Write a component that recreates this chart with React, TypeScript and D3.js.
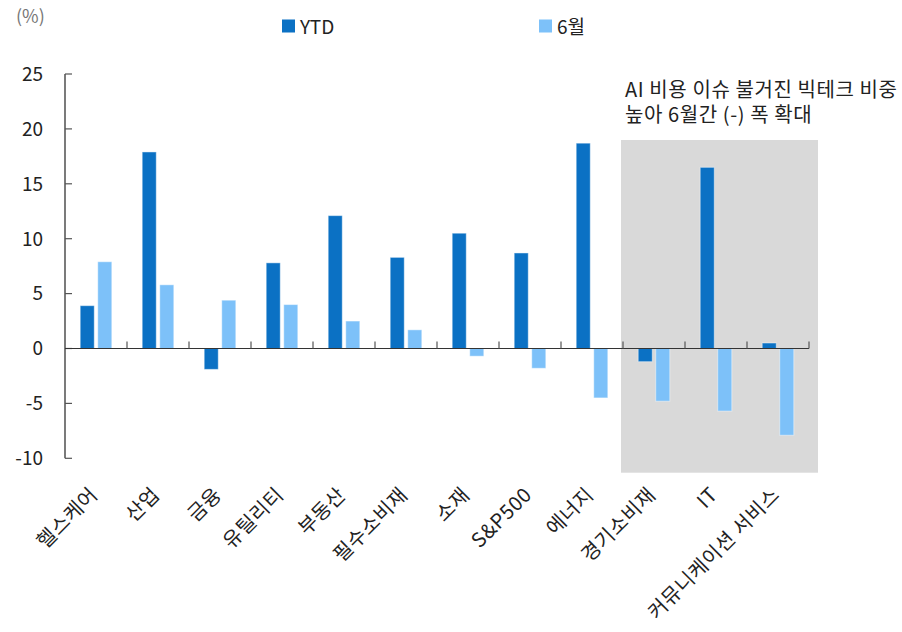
import React from 'react';
import * as d3 from 'd3';

const categories = ['헬스케어', '산업', '금융', '유틸리티', '부동산', '필수소비재', '소재', 'S&P500', '에너지', '경기소비재', 'IT', '커뮤니케이션 서비스'];
const ytd = [3.9, 17.9, -1.9, 7.8, 12.1, 8.3, 10.5, 8.7, 18.7, -1.2, 16.5, 0.5];
const june = [7.9, 5.8, 4.4, 4.0, 2.5, 1.7, -0.7, -1.8, -4.5, -4.8, -5.7, -7.9];
const seriesNames = ['YTD', '6월'];
const yTicks = [25, 20, 15, 10, 5, 0, -5, -10];
const highlight = ['경기소비재', '커뮤니케이션 서비스'];
const noteLines = ['AI 비용 이슈 불거진 빅테크 비중', '높아 6월간 (-) 폭 확대'];

const W = 902, H = 632;
const colors = ['#0B71C4', '#7DC1F9'];
const font = '"Noto Sans CJK KR", "Noto Sans", sans-serif';

export default function App() {
  const x = d3.scaleBand<string>().domain(categories).range([65, 809]).padding(0);
  const y = d3.scaleLinear().domain([-10, 25]).range([458.3, 74]);
  const x1 = d3.scaleBand<string>().domain(seriesNames).range([-15.8, 15.8]).paddingInner(0.2);
  const y0 = y(0);
  const values = [ytd, june];

  // shaded box behind the last three sectors
  const boxX0 = (x(highlight[0]) as number) - 2;
  const boxX1 = (x(highlight[1]) as number) + x.bandwidth() + 9;

  return (
    <svg width={W} height={H} style={{ position: 'absolute', left: 0, top: 0, fontFamily: font }}>
      <rect x={boxX0} y={140} width={boxX1 - boxX0} height={332.7} fill="#d9d9d9" />

      {noteLines.map((t, i) => (
        <text key={t} x={625} y={97 + i * 24.5} fontSize={20} letterSpacing={0.6} fill="#222">{t}</text>
      ))}

      {/* legend */}
      <text x={16} y={23} fontSize={18} fill="#777">(%)</text>
      {seriesNames.map((s, i) => {
        const lx = i === 0 ? 282 : 539;
        return (
          <g key={s}>
            <rect x={lx} y={19.5} width={13} height={13} fill={colors[i]} />
            <text x={lx + 18} y={34} fontSize={19} fill="#222">{s}</text>
          </g>
        );
      })}

      {/* bars */}
      {categories.map((c, ci) => (
        <g key={c} transform={`translate(${(x(c) as number) + x.bandwidth() / 2},0)`}>
          {seriesNames.map((s, si) => {
            const v = values[si][ci];
            return (
              <rect key={s} x={x1(s)} y={Math.min(y(v), y0)} width={x1.bandwidth()}
                height={Math.abs(y(v) - y0)} fill={colors[si]}
                stroke="rgba(255,255,255,0.45)" strokeWidth={1} />
            );
          })}
        </g>
      ))}

      {/* y axis */}
      <line x1={65} x2={65} y1={y(25)} y2={y(-10)} stroke="#222" strokeWidth={1.2} />
      {yTicks.map(t => (
        <g key={t}>
          <line x1={65} x2={72} y1={y(t)} y2={y(t)} stroke="#555" strokeWidth={1.2} />
          <text x={43} y={y(t)} dy="0.36em" textAnchor="end" fontSize={19} fill="#222">{t}</text>
        </g>
      ))}

      {/* x axis */}
      <line x1={65} x2={809} y1={y0} y2={y0} stroke="#333" strokeWidth={1.2} />
      {categories.map(c => {
        const bx = (x(c) as number) + x.bandwidth();
        return <line key={c} x1={bx} x2={bx} y1={y0} y2={y0 - 7} stroke="#555" strokeWidth={1.2} />;
      })}
      {categories.map(c => {
        const cx = (x(c) as number) + x.bandwidth() / 2;
        return (
          <text key={c} transform={`translate(${cx - 2},${491}) rotate(-45)`} textAnchor="end"
            dy="0.35em" fontSize={20} letterSpacing={0.6} fill="#222">{c}</text>
        );
      })}
    </svg>
  );
}
